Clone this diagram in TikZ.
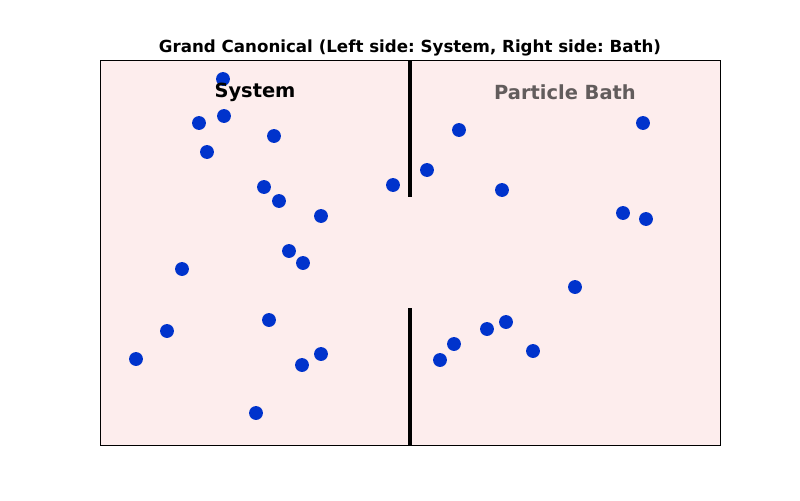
\documentclass[tikz,border=0pt]{standalone}
\usepackage{fontspec}
\setmainfont{DejaVu Sans}
\usetikzlibrary{positioning}
\definecolor{bathpink}{RGB}{253,237,237}
\definecolor{dotblue}{RGB}{0,51,204}
\definecolor{bathgray}{RGB}{98,92,92}
\frenchspacing

\begin{document}
\begin{tikzpicture}[x=0.72pt,y=-0.72pt,
  particle/.style={circle,fill=dotblue,inner sep=0pt,minimum size=10pt},
  wall/.style={line width=3pt},
  sidename/.style={font=\bfseries\fontsize{14}{16}\selectfont}]
  \useasboundingbox (0,0) rectangle (800,500);

  % box and title
  \draw[fill=bathpink,line width=0.7pt] (100,60) rectangle (720,445);
  \node[font=\bfseries\fontsize{12}{14}\selectfont] (title) at (410,47.5) {Grand Canonical (Left side: System, Right side: Bath)};

  % wall with an opening
  \coordinate (wtop)  at (410,60);
  \coordinate (wgap1) at (410,197);
  \coordinate (wgap2) at (410,308);
  \coordinate (wbot)  at (410,445);
  \draw[wall] (wtop) -- (wgap1);
  \draw[wall] (wgap2) -- (wbot);

  % particles in the system
  \foreach \x/\y [count=\i] in {223/79,224/116,199/123,274/136,207/152,264/187,279/201,321/216,
                               289/251,303/263,182/269,269/320,167/331,136/359,321/354,302/365,256/413}
    \node[particle] (s\i) at (\x,\y) {};

  % particles in the bath
  \foreach \x/\y [count=\i] in {393/185,427/170,459/130,502/190,643/123,623/213,646/219,
                               575/287,506/322,487/329,454/344,440/360,533/351}
    \node[particle] (b\i) at (\x,\y) {};

  \node[sidename]                 (sys)  at (255,92.5) {System};
  \node[sidename,text=bathgray]   (bath) at (565,92.5) {Particle Bath};
\end{tikzpicture}
\end{document}
